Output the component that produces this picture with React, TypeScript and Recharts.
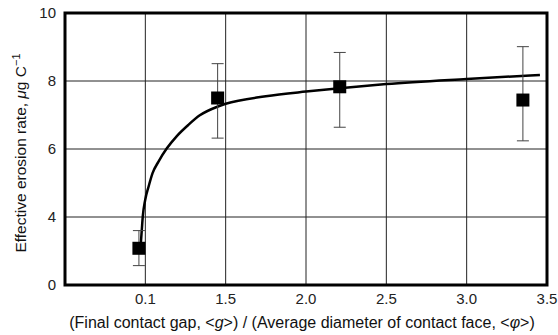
import {
  ComposedChart,
  Line,
  Scatter,
  ErrorBar,
  XAxis,
  YAxis,
  CartesianGrid,
  ReferenceArea,
} from 'recharts';

// axis ticks (labels as printed on the original figure)
const xTicks = [1.0, 1.5, 2.0, 2.5, 3.0, 3.5];
const xTickLabels = ['0.1', '1.5', '2.0', '2.5', '3.0', '3.5'];
const yTicks = [2, 4, 6, 8, 10];
const yTickLabels = ['0', '4', '6', '8', '10'];

// measured points with error range
const pointX = [0.96, 1.45, 2.21, 3.35];
const pointY = [3.08, 7.5, 7.83, 7.44];
const errLow = [2.57, 6.32, 6.64, 6.24];
const errHigh = [3.6, 8.51, 8.84, 9.01];

// fitted curve
const curveX = [0.972, 0.978, 0.984, 0.999, 1.02, 1.045, 1.082, 1.134, 1.196, 1.268, 1.339, 1.452, 1.5, 1.75, 2.0, 2.21, 2.5, 3.0, 3.456];
const curveY = [3.23, 3.62, 4.01, 4.5, 4.89, 5.29, 5.63, 6.02, 6.38, 6.71, 6.99, 7.25, 7.33, 7.55, 7.69, 7.79, 7.91, 8.06, 8.18];

const points = pointX.map((x, i) => ({
  x,
  y: pointY[i],
  err: [pointY[i] - errLow[i], errHigh[i] - pointY[i]],
}));

const curve = curveX.map((x, i) => ({ x, y: curveY[i] }));

const FONT = '"Liberation Sans", Arial, Helvetica, sans-serif';

const Square = (props: { cx?: number; cy?: number }) => {
  const { cx = 0, cy = 0 } = props;
  return <rect x={cx - 6.5} y={cy - 6.5} width={13} height={13} fill="#000" />;
};

const XLabel = ({ viewBox }: { viewBox?: { x: number; y: number; width: number } }) => {
  if (!viewBox) return null;
  return (
    <text
      x={viewBox.x + viewBox.width / 2 - 4}
      y={viewBox.y + 43}
      textAnchor="middle"
      fontSize={16}
      fill="#111"
      fontFamily={FONT}
    >
      (Final contact gap, &lt;<tspan fontStyle="italic">g</tspan>&gt;) / (Average diameter of contact face, &lt;
      <tspan fontStyle="italic">φ</tspan>&gt;)
    </text>
  );
};

const YLabel = () => (
  <text
    x={0}
    y={0}
    transform="translate(26, 153) rotate(-90)"
    textAnchor="middle"
    fontSize={15.5}
    fill="#111"
    fontFamily={FONT}
  >
    Effective erosion rate, <tspan fontStyle="italic">μ</tspan>g C
    <tspan fontSize={11} dy={-6}>−1</tspan>
  </text>
);

export default function App() {
  return (
    <div style={{ position: 'absolute', left: 0, top: 0, background: '#fff', fontFamily: FONT }}>
      <ComposedChart width={558} height={335} margin={{ top: 13, right: 11, bottom: 0, left: 0 }}>
        <CartesianGrid stroke="#222" strokeWidth={1} />
        <XAxis
          type="number"
          dataKey="x"
          domain={[0.5, 3.5]}
          ticks={xTicks}
          interval={0}
          allowDataOverflow
          tickFormatter={(v: number) => xTickLabels[xTicks.indexOf(v)] ?? ''}
          axisLine={false}
          tickLine={false}
          tickSize={0}
          tickMargin={8}
          height={50}
          tick={{ fontSize: 15, fill: '#222', fontFamily: FONT }}
          label={<XLabel />}
        />
        <YAxis
          type="number"
          dataKey="y"
          domain={[2, 10]}
          ticks={yTicks}
          interval={0}
          allowDataOverflow
          tickFormatter={(v: number) => yTickLabels[yTicks.indexOf(v)] ?? ''}
          axisLine={false}
          tickLine={false}
          tickSize={0}
          tickMargin={9}
          width={65}
          tick={{ fontSize: 15, fill: '#222', fontFamily: FONT }}
          label={<YLabel />}
        />
        <ReferenceArea
          x1={0.5}
          x2={3.5}
          y1={2}
          y2={10}
          fill="none"
          fillOpacity={0}
          stroke="#000"
          strokeWidth={3}
          ifOverflow="visible"
        />
        <Line
          data={curve}
          dataKey="y"
          type="monotone"
          stroke="#000"
          strokeWidth={2.5}
          dot={false}
          activeDot={false}
          isAnimationActive={false}
        />
        <Scatter data={points} dataKey="y" shape={<Square />} isAnimationActive={false}>
          <ErrorBar dataKey="err" direction="y" width={6} stroke="#444" strokeWidth={1} />
        </Scatter>
      </ComposedChart>
    </div>
  );
}
